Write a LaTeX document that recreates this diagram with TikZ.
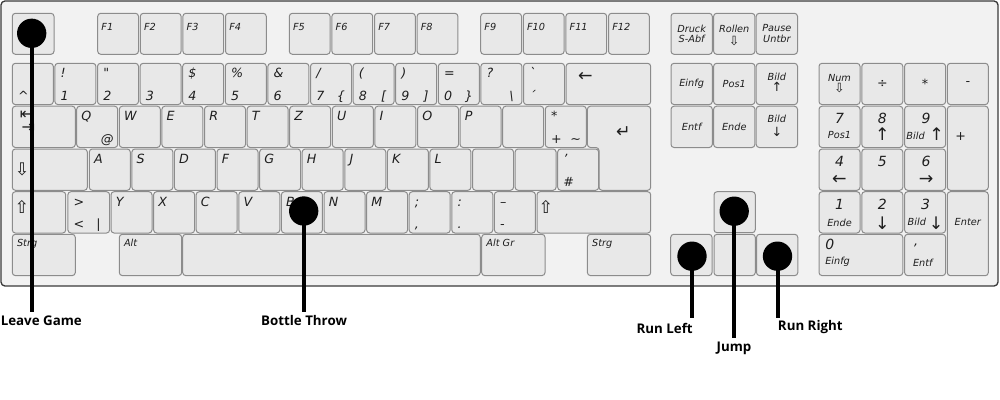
\documentclass[tikz,border=0pt]{standalone}
\usepackage{fontspec}
\setmainfont{DejaVu Sans}
\newfontfamily\capfont{Open Sans}
\usetikzlibrary{calc}
\definecolor{kbbg}{HTML}{F2F2F2}
\definecolor{keyfill}{HTML}{E8E8E8}
\definecolor{keyedge}{HTML}{8C8C8C}
\definecolor{kbedge}{HTML}{3A3A3A}
\definecolor{ink}{HTML}{1E1E1E}
\tikzset{
  keybox/.style={rectangle, draw=keyedge, fill=keyfill, line width=0.75pt, rounded corners=2.3pt, inner sep=0pt},
  lab/.style={inner sep=0pt, text=ink, font=\itshape\fontsize{9.5}{10}\selectfont},
  sml/.style={inner sep=0pt, text=ink, font=\itshape\fontsize{7.3}{8}\selectfont},
  numf/.style={inner sep=0pt, text=ink, font=\itshape\fontsize{10.5}{11}\selectfont},
  arr/.style={inner sep=0pt, text=ink, font=\upshape\fontsize{13}{13}\selectfont},
  sarr/.style={inner sep=0pt, text=ink, font=\upshape\fontsize{9.5}{10}\selectfont},
  dot/.style={circle, fill=black, minimum size=22pt, inner sep=0pt},
  lead/.style={line width=3pt},
  capt/.style={inner sep=0pt, text=black, font=\capfont\bfseries\fontsize{10}{12}\selectfont},
}
\newcommand\kk[5]{\node[keybox, minimum width={(#4)*0.75pt}, minimum height={(#5)*0.75pt}] (#1) at ({#2+(#4)/2},{#3+(#5)/2}) {};}
\newcommand\ktop[2]{\node[lab,anchor=base west] (#1t) at ($(#1.north west)+(6,15)$) {#2};}
\newcommand\kbot[2]{\node[lab,anchor=base west] (#1b) at ($(#1.north west)+(6,37.5)$) {#2};}
\newcommand\kbr[2]{\node[lab,anchor=base] (#1r) at ($(#1.north west)+(31,37.5)$) {#2};}
\newcommand\ksm[2]{\node[sml,anchor=base west] (#1s) at ($(#1.north west)+(5,13)$) {#2};}
\begin{document}
\begin{tikzpicture}[x=0.75pt,y=-0.75pt]
\useasboundingbox (0,0) rectangle (1000,400);
\fill[white] (0,0) rectangle (1000,400);
% keyboard body
\node[rectangle, draw=kbedge, fill=kbbg, line width=1pt, rounded corners=3pt, inner sep=0pt,
  minimum width=997*0.75pt, minimum height=285*0.75pt] (board) at (499.5,143.5) {};

% ---------- function row ----------
\kk{esc}{12.3}{13.3}{41.7}{41}
\foreach \i in {1,...,4}{\kk{f\i}{97.7+(\i-1)*42.6}{13.3}{40.8}{41}}
\foreach \i in {5,...,8}{\kk{f\i}{289.3+(\i-5)*42.6}{13.3}{40.8}{41}}
\foreach \i in {9,...,12}{\kk{f\i}{480.7+(\i-9)*42.6}{13.3}{40.8}{41}}
\foreach \i in {1,...,12}{\node[sml,anchor=base west] (fl\i) at ($(f\i.north west)+(4,17.5)$) {F\i};}

% ---------- number row ----------
\foreach \i in {0,...,12}{\kk{n\i}{12.3+\i*42.6}{63.3}{41}{41.3}}
\kk{bksp}{566.1}{63.3}{84.6}{41.3}
\kbot{n0}{\textasciicircum}
\ktop{n1}{!}\kbot{n1}{1}
\ktop{n2}{\textquotedbl}\kbot{n2}{2}
\kbot{n3}{3}
\ktop{n4}{\$}\kbot{n4}{4}
\ktop{n5}{\%}\kbot{n5}{5}
\ktop{n6}{\&}\kbot{n6}{6}
\ktop{n7}{/}\kbot{n7}{7}\kbr{n7}{\{}
\ktop{n8}{(}\kbot{n8}{8}\kbr{n8}{[}
\ktop{n9}{)}\kbot{n9}{9}\kbr{n9}{]}
\ktop{n10}{=}\kbot{n10}{0}\kbr{n10}{\}}
\ktop{n11}{?}\kbr{n11}{\textbackslash}
\ktop{n12}{\textasciigrave}\kbot{n12}{´}
\node[arr] (bkspl) at (585.5,77.3) {←};

% ---------- tab row ----------
\kk{tab}{12.3}{106.2}{63}{41.3}
\foreach \i in {0,...,11}{\kk{q\i}{76.7+\i*42.6}{106.2}{41}{41.3}}
\foreach \i/\c in {0/Q,1/W,2/E,3/R,4/T,5/Z,6/U,7/I,8/O,9/P}{\node[lab,anchor=base west] (lq\i) at ($(q\i.north west)+(5,15)$) {\c};}
\kbr{q0}{@}
\ktop{q11}{*}\kbot{q11}{+}\kbr{q11}{\textasciitilde}
\node[inner sep=0pt, text=ink, align=left, font=\fontsize{12}{10}\selectfont] (tabl) at (27.5,121.5) {⇤\\\hspace*{1.2pt}⇥};
% ISO enter
\draw[draw=keyedge, fill=keyfill, line width=0.75pt, rounded corners=2.3pt]
  (587.4,106.2) -- (650.7,106.2) -- (650.7,190.3) -- (599,190.3) -- (599,147.5) -- (587.4,147.5) -- cycle;
\coordinate (enterk) at (623.5,131.7);
\node[arr] (enterl) at (enterk) {↵};

% ---------- caps row ----------
\kk{caps}{12.3}{149}{75}{41.3}
\foreach \i in {0,...,11}{\kk{a\i}{89.3+\i*42.58}{149}{41}{41.3}}
\foreach \i/\c in {0/A,1/S,2/D,3/F,4/G,5/H,6/J,7/K,8/L}{\node[lab,anchor=base west] (la\i) at ($(a\i.north west)+(5,15)$) {\c};}
\ktop{a11}{'}\kbot{a11}{\#}
\node[arr] (capsl) at (22.2,169) {⇩};

% ---------- shift row ----------
\kk{lsh}{12.3}{191.7}{53.4}{41.3}
\kk{ltgt}{67.9}{191.7}{41.7}{41.3}
\foreach \i in {0,...,9}{\kk{y\i}{111+\i*42.6}{191.7}{41}{41.3}}
\kk{rsh}{537}{191.7}{113.7}{41.3}
\foreach \i/\c in {0/Y,1/X,2/C,3/V,4/B,5/N,6/M}{\node[lab,anchor=base west] (ly\i) at ($(y\i.north west)+(5,15)$) {\c};}
\ktop{ltgt}{>}\kbot{ltgt}{<}\kbr{ltgt}{|}
\ktop{y7}{;}\kbot{y7}{,}
\ktop{y8}{:}\kbot{y8}{.}
\ktop{y9}{–}\kbot{y9}{-}
\node[arr] (lshl) at (22,206.5) {⇧};
\node[arr] (rshl) at (546,206.5) {⇧};

% ---------- bottom row ----------
\kk{lctl}{12.3}{234.3}{63}{41.3}
\kk{alt}{119.3}{234.3}{62.4}{41.3}
\kk{space}{182.7}{234.3}{297.6}{41.3}
\kk{altgr}{481.7}{234.3}{63.3}{41.3}
\kk{rctl}{587.4}{234.3}{63.3}{41.3}
\ksm{lctl}{Strg}\ksm{alt}{Alt}\ksm{altgr}{Alt Gr}\ksm{rctl}{Strg}

% ---------- navigation block ----------
\kk{druck}{671}{13.3}{41.3}{41}
\kk{rollen}{713.6}{13.3}{41.3}{41}
\kk{pause}{756.2}{13.3}{41.3}{41}
\kk{ins}{671}{63.3}{41.3}{41.3}
\kk{home}{713.6}{63.3}{41.3}{41.3}
\kk{pgup}{756.2}{63.3}{41.3}{41.3}
\kk{del}{671}{106.2}{41.3}{41.3}
\kk{end}{713.6}{106.2}{41.3}{41.3}
\kk{pgdn}{756.2}{106.2}{41.3}{41.3}
\node[sml,align=center] (druckl) at (druck) {Druck\\S-Abf};
\node[sml] (rollenl) at ($(rollen.north)+(0,16.5)$) {Rollen};
\node[sarr] (rollena) at ($(rollen.north)+(0,28.5)$) {⇩};
\node[sml,align=center] (pausel) at (pause) {Pause\\Untbr};
\node[sml] (insl) at (ins) {Einfg};
\node[sml] (homel) at (home) {Pos1};
\node[sml] (pgupl) at ($(pgup.north)+(0,14)$) {Bild};
\node[sarr] (pgupa) at ($(pgup.north)+(0,24.5)$) {↑};
\node[sml] (dell) at (del) {Entf};
\node[sml] (endl) at (end) {Ende};
\node[sml] (pgdnl) at ($(pgdn.north)+(0,13)$) {Bild};
\node[sarr] (pgdna) at ($(pgdn.north)+(0,26.5)$) {↓};

% arrow keys
\kk{up}{714}{191.7}{41.3}{41}
\kk{left}{670.7}{234.3}{41.3}{41.3}
\kk{down}{714}{234.3}{41.3}{41.3}
\kk{right}{756.5}{234.3}{41.3}{41.3}
\node[inner sep=0pt, font=\fontsize{6}{6}\selectfont] (downl) at (734,258) {↓};

% ---------- numeric keypad ----------
\kk{num}{819}{63.3}{41}{41.3}
\kk{div}{861.8}{63.3}{41}{41.3}
\kk{mul}{904.6}{63.3}{41}{41.3}
\kk{minus}{947.3}{63.3}{41}{41.3}
\kk{k7}{819}{106.2}{41}{41.3}
\kk{k8}{861.8}{106.2}{41}{41.3}
\kk{k9}{904.6}{106.2}{41}{41.3}
\kk{plus}{947.3}{106.2}{41}{84.1}
\kk{k4}{819}{149}{41}{41.3}
\kk{k5}{861.8}{149}{41}{41.3}
\kk{k6}{904.6}{149}{41}{41.3}
\kk{k1}{819}{191.7}{41}{41.3}
\kk{k2}{861.8}{191.7}{41}{41.3}
\kk{k3}{904.6}{191.7}{41}{41.3}
\kk{kent}{947.3}{191.7}{41}{84}
\kk{k0}{819}{234.3}{83.8}{41.3}
\kk{kdel}{904.6}{234.3}{41}{41.3}
\node[sml] (numl) at ($(num.north)+(0,15)$) {Num};
\node[sarr] (numa) at ($(num.north)+(0,25.5)$) {⇩};
\node[lab] (divl) at (div) {÷};
\node[lab] (mull) at (mul) {*};
\node[lab] (minusl) at (minus) {-};
\node[numf] (k7n) at ($(k7.north)+(0,12.8)$) {7};
\node[sml] (k7s) at ($(k7.north)+(0,29.8)$) {Pos1};
\node[numf] (k8n) at ($(k8.north)+(0,12.8)$) {8};
\node[arr] (k8s) at ($(k8.north)+(0,28)$) {↑};
\node[numf] (k9n) at ($(k9.north)+(1,12.8)$) {9};
\node[sml] (k9s) at ($(k9.north west)+(11.5,30.5)$) {Bild};
\node[arr] (k9a) at ($(k9.north west)+(32.5,28)$) {↑};
\node[lab] (plusl) at (960.7,137) {+};
\node[numf] (k4n) at ($(k4.north)+(0,12.7)$) {4};
\node[arr] (k4a) at ($(k4.north)+(0,31)$) {←};
\node[numf] (k5n) at ($(k5.north)+(0,12.7)$) {5};
\node[numf] (k6n) at ($(k6.north)+(1,12.7)$) {6};
\node[arr] (k6a) at ($(k6.north)+(1,31)$) {→};
\node[numf] (k1n) at ($(k1.north)+(0,13.3)$) {1};
\node[sml] (k1s) at ($(k1.north)+(0,31.6)$) {Ende};
\node[numf] (k2n) at ($(k2.north)+(0,13.3)$) {2};
\node[arr] (k2a) at ($(k2.north)+(0,32)$) {↓};
\node[numf] (k3n) at ($(k3.north)+(0.4,13.3)$) {3};
\node[sml] (k3s) at ($(k3.north west)+(12.7,30.3)$) {Bild};
\node[arr] (k3a) at ($(k3.north west)+(32,32)$) {↓};
\node[sml] (kentl) at ($(kent.north)+(0,31)$) {Enter};
\node[numf,anchor=base west] (k0n) at ($(k0.north west)+(6.5,15.5)$) {0};
\node[sml,anchor=base west] (k0s) at ($(k0.north west)+(6.5,30.5)$) {Einfg};
\node[lab,anchor=base] (kdeln) at ($(kdel.north west)+(12.1,12)$) {,};
\node[sml,anchor=base] (kdels) at ($(kdel.north west)+(18.7,33)$) {Entf};

% ---------- markers and leaders ----------
\node[dot] (mEsc) at (31.7,33.3) {};
\node[dot] (mB) at (303.7,211) {};
\node[dot] (mLeft) at (692,256.2) {};
\node[dot] (mUp) at (734.2,211.2) {};
\node[dot] (mRight) at (777.5,256.2) {};
\coordinate (eEsc) at (31.7,311.7);
\coordinate (eB) at (303.7,311.7);
\coordinate (eLeft) at (692,317.7);
\coordinate (eUp) at (734.2,337.7);
\coordinate (eRight) at (777.5,317.7);
\draw[lead] (mEsc.center) -- (eEsc);
\draw[lead] (mB.center) -- (eB);
\draw[lead] (mLeft.center) -- (eLeft);
\draw[lead] (mUp.center) -- (eUp);
\draw[lead] (mRight.center) -- (eRight);
\node[capt,anchor=base west] (tEsc) at (0.5,325) {Leave Game};
\node[capt,anchor=base] (tB) at (304,325) {Bottle Throw};
\node[capt,anchor=base east] (tLeft) at (693,333) {Run Left};
\node[capt,anchor=base] (tUp) at (734,351) {Jump};
\node[capt,anchor=base west] (tRight) at (777.7,330.5) {Run Right};
\end{tikzpicture}
\end{document}
